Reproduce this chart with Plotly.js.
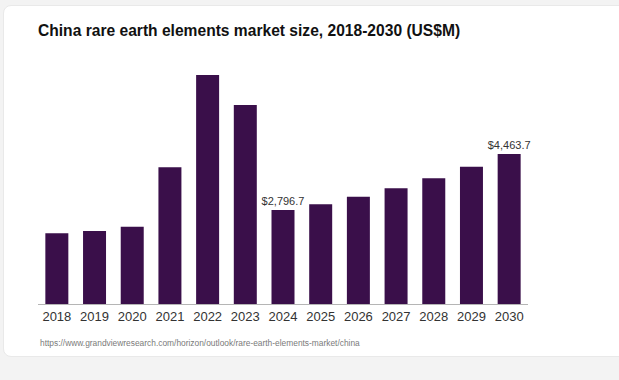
<!DOCTYPE html>
<html>
<head>
<meta charset="utf-8">
<script src="https://cdn.plot.ly/plotly-3.0.1.min.js"></script>
<style>
  html, body { margin: 0; padding: 0; width: 619px; height: 380px; background: #f3f3f3; overflow: hidden; }
  #card { position: absolute; left: 3px; top: 5px; width: 640px; height: 352px; background: #ffffff;
          border: 1px solid #e9e9e9; border-radius: 8px; box-sizing: border-box; }
  #chart { position: absolute; left: 0; top: 0; width: 619px; height: 380px; }
</style>
</head>
<body>
<div id="card"></div>
<div id="chart"></div>
<script>
const years = ['2018','2019','2020','2021','2022','2023','2024','2025','2026','2027','2028','2029','2030'];
const marketSize = [2104, 2172, 2301, 4068, 6815, 5922, 2796.7, 2967, 3193, 3443, 3741, 4086, 4463.7];
const labelledYears = ['2024', '2030'];
const titleText = 'China rare earth elements market size, 2018-2030 (US$M)';
const sourceText = 'https://www.grandviewresearch.com/horizon/outlook/rare-earth-elements-market/china';

const fmt = v => '$' + v.toLocaleString('en-US', {minimumFractionDigits: 1, maximumFractionDigits: 1});
const labels = years.map((y, i) => labelledYears.includes(y) ? fmt(marketSize[i]) : '');

const trace = {
  type: 'bar',
  x: years,
  y: marketSize,
  text: labels,
  textposition: 'outside',
  constraintext: 'none',
  cliponaxis: false,
  textfont: {family: 'Liberation Sans, Arial, sans-serif', size: 11, color: '#333333'},
  marker: {color: '#3a0f4a'},
  hoverinfo: 'none'
};

const layout = {
  width: 619, height: 380,
  margin: {l: 37.5, r: 90.5, t: 52, b: 76},
  paper_bgcolor: 'rgba(0,0,0,0)',
  plot_bgcolor: 'rgba(0,0,0,0)',
  bargap: 0.39,
  showlegend: false,
  title: {
    text: '<b>' + titleText + '</b>',
    x: 0, xref: 'paper', xanchor: 'left',
    y: 1 - 30.5 / 380, yref: 'container', yanchor: 'middle',
    font: {family: 'Liberation Sans, Arial, sans-serif', size: 15.6, color: '#111111'}
  },
  xaxis: {
    type: 'category',
    showline: true, linecolor: '#b5b5b5', linewidth: 1,
    showgrid: false, ticks: '',
    tickfont: {family: 'Liberation Sans, Arial, sans-serif', size: 13, color: '#333333'},
    fixedrange: true
  },
  yaxis: {
    range: [0, 7500],
    visible: false, showgrid: false, zeroline: false,
    fixedrange: true
  },
  annotations: [{
    text: sourceText,
    xref: 'paper', yref: 'paper',
    x: 0, xanchor: 'left',
    y: -(343 - 304) / 252, yanchor: 'middle',
    showarrow: false,
    font: {family: 'Liberation Sans, Arial, sans-serif', size: 8.4, color: '#7a7a7a'}
  }]
};

Plotly.newPlot('chart', [trace], layout, {displayModeBar: false, staticPlot: true});
</script>
</body>
</html>
